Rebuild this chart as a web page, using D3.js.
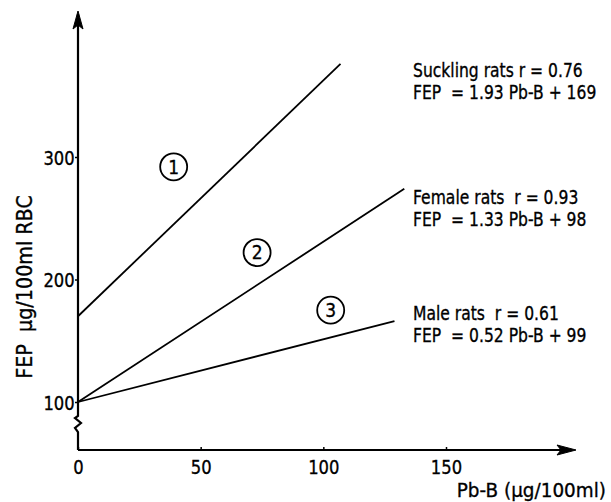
<!DOCTYPE html>
<html>
<head>
<meta charset="utf-8">
<script src="https://cdn.jsdelivr.net/npm/d3@7"></script>
<style>
  body { margin: 0; background: #fff; }
  svg text { font-family: 'DejaVu Sans', 'Liberation Sans', sans-serif; fill: #000; stroke: #000; stroke-width: 0.35px; }
</style>
</head>
<body>
<div id="chart"></div>
<script>
// regression lines
const groups = ['Suckling rats', 'Female rats', 'Male rats']
const rValues = ['0.76', '0.93', '0.61']
const slopes = ['1.93', '1.33', '0.52']
const intercepts = ['169', '98', '99']
const startFep = [170, 100, 100]   // value at Pb-B = 0
const endPb = [107, 133, 129]
const endFep = [376, 274, 166]
// where the circled numbers sit (Pb-B, FEP)
const markPb = [39, 73, 103]
const markFep = [292, 222, 175]
const markText = ['1', '2', '3']
// first line baseline of each note, in FEP units
const noteFep = [365, 262, 167]
const xTicks = [0, 50, 100, 150]
const yTicks = [100, 200, 300]

const W = 611, H = 502
const axisX = 78, axisY = 450
const sq = 0.82   // the lettering in the scan is condensed

let svg = d3.select('#chart').append('svg').attr('width', W).attr('height', H)

let x = d3.scaleLinear().domain([0, 150]).range([78, 446])
let y = d3.scaleLinear().domain([100, 300]).range([402, 157])

// axes
let yAxis = d3.axisLeft(y).tickValues(yTicks).tickSize(3).tickPadding(1).tickFormat(d3.format('d'))
let gy = svg.append('g').attr('transform', `translate(${axisX},0)`).call(yAxis)
gy.select('.domain').remove()
gy.selectAll('.tick line').attr('stroke', '#000').attr('stroke-width', 1.5)
gy.selectAll('.tick text').attr('font-size', '20px').attr('dy', '0.36em')
  .attr('transform', `scale(${sq},1)`)

let xAxis = d3.axisTop(x).tickValues(xTicks).tickSize(3).tickFormat(d3.format('d'))
let gx = svg.append('g').attr('transform', `translate(0,${axisY})`).call(xAxis)
gx.select('.domain').remove()
gx.selectAll('.tick line').attr('stroke', '#000').attr('stroke-width', 1.5)
gx.selectAll('.tick text').attr('font-size', '20px').attr('y', 24).attr('dy', 0)
  .attr('transform', `scale(${sq},1)`)

// y axis line with break and arrow
svg.append('path')
  .attr('d', `M${axisX},${axisY} L${axisX},432 L${axisX - 3},428 L${axisX + 3},423 L${axisX - 3},418 L${axisX},416 L${axisX},14`)
  .attr('fill', 'none').attr('stroke', '#000').attr('stroke-width', 2.2)
svg.append('path')
  .attr('d', `M${axisX},11 L${axisX - 5},29 L${axisX},25 L${axisX + 5},29 Z`)
  .attr('fill', '#000').attr('stroke', '#000').attr('stroke-width', 1)

// x axis line with arrow
svg.append('line')
  .attr('x1', axisX).attr('y1', axisY).attr('x2', 572).attr('y2', axisY)
  .attr('stroke', '#000').attr('stroke-width', 2.2)
svg.append('path')
  .attr('d', `M576,${axisY} L557,${axisY - 5} L561,${axisY} L557,${axisY + 5} Z`)
  .attr('fill', '#000').attr('stroke', '#000').attr('stroke-width', 1)

// axis titles
svg.append('text').text('FEP  \u03bcg/100ml RBC')
  .attr('transform', `translate(32,287) rotate(-90) scale(0.87,1)`)
  .attr('text-anchor', 'middle').attr('font-size', '22px')
  .style('white-space', 'pre')
svg.append('text').text('Pb-B (\u03bcg/100ml)')
  .attr('transform', `translate(606,497) scale(0.92,1)`)
  .attr('text-anchor', 'end').attr('font-size', '20px')

// regression lines
svg.selectAll('.reg').data(groups).enter().append('line').classed('reg', true)
  .attr('x1', x(0)).attr('y1', (d, i) => y(startFep[i]))
  .attr('x2', (d, i) => x(endPb[i])).attr('y2', (d, i) => y(endFep[i]))
  .attr('stroke', '#000').attr('stroke-width', 1.8)

// circled numbers
let marks = svg.selectAll('.mark').data(groups).enter().append('g').classed('mark', true)
  .attr('transform', (d, i) => `translate(${x(markPb[i])},${y(markFep[i])})`)
marks.append('circle').attr('r', 13.5).attr('fill', 'none').attr('stroke', '#000').attr('stroke-width', 1.8)
marks.append('text').text((d, i) => markText[i])
  .attr('text-anchor', 'middle').attr('dy', '0.36em').attr('font-size', '19px')
  .attr('transform', 'scale(0.9,1)')

// notes
let notes = svg.selectAll('.note').data(groups).enter().append('text').classed('note', true)
  .attr('font-size', '19px').style('white-space', 'pre')
  .attr('transform', (d, i) => `translate(413,${y(noteFep[i])}) scale(${sq},1)`)
notes.append('tspan').attr('x', 0).attr('y', 0)
  .text((d, i) => i === 0 ? `${d} r = ${rValues[i]}` : `${d}  r = ${rValues[i]}`)
notes.append('tspan').attr('x', 0).attr('y', 22)
  .text((d, i) => `FEP  = ${slopes[i]} Pb-B + ${intercepts[i]}`)
</script>
</body>
</html>
